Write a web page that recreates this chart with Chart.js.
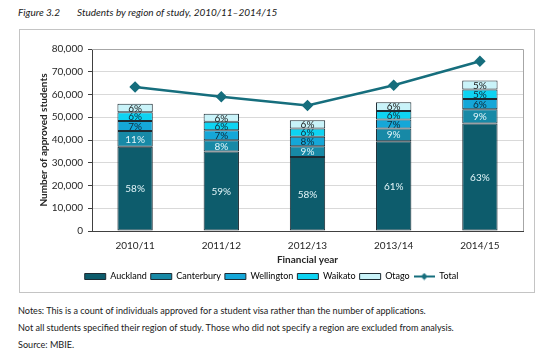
<!DOCTYPE html>
<html>
<head>
<meta charset="utf-8">
<script src="https://cdn.jsdelivr.net/npm/chart.js@4.4.1/dist/chart.umd.min.js"></script>
<style>
  html, body { margin: 0; padding: 0; background: #ffffff; }
  body { width: 550px; height: 356px; position: relative; overflow: hidden; font-family: Lato, "Open Sans", sans-serif; color: #1a1a1a; }
  .title { position: absolute; top: 6px; font-size: 10px; font-style: italic; white-space: pre; }
  #frame { position: absolute; left: 19px; top: 29px; width: 516px; height: 264px; border: 1px solid #c4c4c4; box-sizing: border-box; }
  #chartWrap { position: absolute; left: 20px; top: 30px; width: 514px; height: 262px; }
  .note { position: absolute; left: 18px; font-size: 9.1px; white-space: nowrap; }
</style>
</head>
<body>
<div class="title" style="left:18px">Figure 3.2</div>
<div class="title" style="left:77px">Students by region of study, 2010/11–2014/15</div>
<div id="frame"></div>
<div id="chartWrap"><canvas id="c" width="514" height="262"></canvas></div>
<div class="note" style="top:305px">Notes: This is a count of individuals approved for a student visa rather than the number of applications.</div>
<div class="note" style="top:322px">Not all students specified their region of study. Those who did not specify a region are excluded from analysis.</div>
<div class="note" style="top:339px">Source: MBIE.</div>
<script>
const categories = ["2010/11", "2011/12", "2012/13", "2013/14", "2014/15"];
const auckland   = [37000, 35000, 32500, 39500, 47200];
const canterbury = [7000, 4900, 4800, 5600, 6300];
const wellington = [4300, 4400, 4100, 3900, 4500];
const waikato    = [3900, 3700, 3700, 3800, 4200];
const otago      = [3700, 3500, 3600, 3800, 4000];
const total      = [63300, 59000, 55200, 64100, 74600];
const aucklandPct   = ["58%", "59%", "58%", "61%", "63%"];
const canterburyPct = ["11%", "8%", "9%", "9%", "9%"];
const wellingtonPct = ["7%", "7%", "8%", "7%", "6%"];
const waikatoPct    = ["6%", "6%", "6%", "6%", "5%"];
const otagoPct      = ["6%", "6%", "6%", "6%", "5%"];
const yTicks = [0, 10000, 20000, 30000, 40000, 50000, 60000, 70000, 80000];

const FONT = "Lato, 'Open Sans', sans-serif";
const LINE_COLOR = "#166e7d";

// legend icon for the Total line (line + diamond)
const lineIcon = document.createElement("canvas");
lineIcon.width = 21; lineIcon.height = 8;
(function () {
  const g = lineIcon.getContext("2d");
  g.strokeStyle = LINE_COLOR; g.lineWidth = 2;
  g.beginPath(); g.moveTo(0, 4); g.lineTo(21, 4); g.stroke();
  g.fillStyle = LINE_COLOR;
  g.beginPath(); g.moveTo(10.5, 0.5); g.lineTo(14, 4); g.lineTo(10.5, 7.5); g.lineTo(7, 4); g.closePath(); g.fill();
})();

function barSet(label, data, color, pct, textColor) {
  return {
    type: "bar", label, data, backgroundColor: color, borderColor: "#1d2b33",
    borderWidth: 1, borderSkipped: false, barPercentage: 0.41, categoryPercentage: 1,
    order: 1, pct, textColor, stack: "regions"
  };
}

const segLabels = {
  id: "segLabels",
  afterDatasetsDraw(chart) {
    const ctx = chart.ctx;
    ctx.save();
    ctx.font = "10px " + FONT;
    ctx.textAlign = "center";
    ctx.textBaseline = "middle";
    chart.data.datasets.forEach((ds, i) => {
      if (!ds.pct) return;
      const meta = chart.getDatasetMeta(i);
      meta.data.forEach((el, j) => {
        ctx.fillStyle = ds.textColor;
        ctx.fillText(ds.pct[j], el.x, (el.y + el.base) / 2 + 0.5);
      });
    });
    ctx.restore();
  }
};

const plotBorder = {
  id: "plotBorder",
  beforeDatasetsDraw(chart) {
    const a = chart.chartArea, ctx = chart.ctx;
    ctx.save();
    ctx.strokeStyle = "#a6a6a6"; ctx.lineWidth = 1;
    ctx.beginPath();
    ctx.moveTo(a.left, Math.round(a.top) + 0.5);
    ctx.lineTo(Math.round(a.right) + 0.5, Math.round(a.top) + 0.5);
    ctx.lineTo(Math.round(a.right) + 0.5, a.bottom);
    ctx.stroke();
    ctx.restore();
  }
};

new Chart(document.getElementById("c"), {
  data: {
    labels: categories,
    datasets: [
      barSet("Auckland", auckland, "#0d5c6c", aucklandPct, "#e4f6fa"),
      barSet("Canterbury", canterbury, "#1789a6", canterburyPct, "#e4f6fa"),
      barSet("Wellington", wellington, "#15a7d8", wellingtonPct, "#0f2a3a"),
      barSet("Waikato", waikato, "#0ed3f2", waikatoPct, "#0f2a3a"),
      barSet("Otago", otago, "#c9f3f9", otagoPct, "#1a1a1a"),
      {
        type: "line", label: "Total", data: total, borderColor: LINE_COLOR, backgroundColor: LINE_COLOR,
        borderWidth: 2.5, pointStyle: "rectRot", pointRadius: 4, pointBackgroundColor: LINE_COLOR,
        pointBorderColor: LINE_COLOR, tension: 0, order: 0, stack: "total"
      }
    ]
  },
  options: {
    responsive: false,
    animation: false,
    events: [],
    layout: { padding: { top: 19, right: 11, left: 0, bottom: 1 } },
    scales: {
      x: {
        stacked: true,
        afterFit(scale) { scale.height = 37; },
        grid: { drawOnChartArea: false, drawTicks: false },
        border: { color: "#404040", width: 1 },
        ticks: { font: { family: FONT, size: 10 }, color: "#262626", padding: 9 },
        title: { display: true, text: "Financial year", font: { family: FONT, size: 10, weight: "bold" }, color: "#262626", padding: { top: 0, bottom: 2 } }
      },
      y: {
        stacked: true,
        min: 0, max: 80000,
        afterFit(scale) { scale.width = 72; },
        afterBuildTicks(scale) { scale.ticks = yTicks.map(v => ({ value: v })); },
        grid: { color: "#d9d9d9", tickColor: "#404040", tickLength: 4 },
        border: { color: "#404040", width: 1 },
        ticks: {
          font: { family: FONT, size: 10 }, color: "#262626", padding: 5,
          callback: v => v.toLocaleString("en-US")
        },
        title: { display: true, text: "Number of approved students", font: { family: FONT, size: 10, weight: "bold" }, color: "#262626", padding: { top: 18, bottom: 0 } }
      }
    },
    plugins: {
      tooltip: { enabled: false },
      legend: {
        position: "bottom",
        labels: {
          font: { family: FONT, size: 9 }, color: "#262626",
          usePointStyle: true, pointStyleWidth: 21, boxHeight: 6, padding: 4,
          generateLabels(chart) {
            return chart.data.datasets.map((ds, i) => ({
              text: ds.label,
              fillStyle: ds.backgroundColor,
              strokeStyle: ds.type === "line" ? ds.borderColor : "#1d2b33",
              lineWidth: 1,
              pointStyle: ds.type === "line" ? lineIcon : "rect",
              datasetIndex: i,
              hidden: false
            }));
          }
        }
      }
    }
  },
  plugins: [segLabels, plotBorder]
});
</script>
</body>
</html>
